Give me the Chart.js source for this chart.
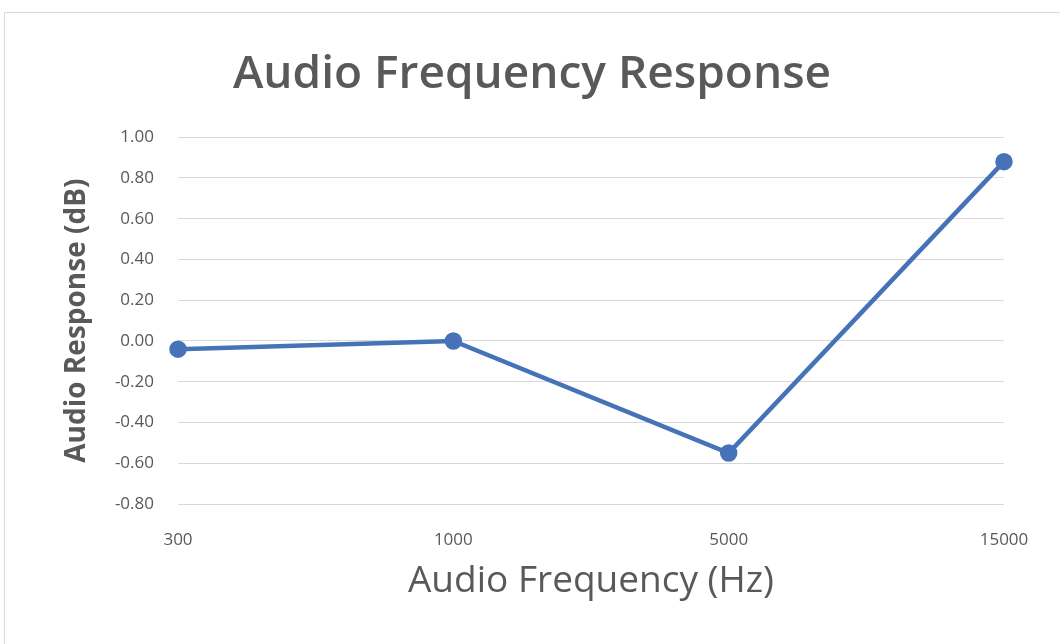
<!DOCTYPE html>
<html>
<head>
<meta charset="utf-8">
<script src="https://cdn.jsdelivr.net/npm/chart.js@4/dist/chart.umd.min.js"></script>
<style>
  body { margin: 0; background: #fff; }
  #frame { position: absolute; left: 4px; top: 12px; width: 1060px; height: 640px; border: 1px solid #d9d9d9; box-sizing: border-box; }
  #wrap { position: absolute; left: 0; top: 0; width: 1060px; height: 644px; }
</style>
</head>
<body>
<div id="frame"></div>
<div id="wrap"><canvas id="myChart"></canvas></div>
<script>
var frequencies = ['300', '1000', '5000', '15000'];
var responses = [-0.04, 0.00, -0.55, 0.88];
var yMin = -0.80, yMax = 1.00, yStep = 0.20;

var grey = '#595959';
var ctx = document.getElementById('myChart').getContext('2d');
var myChart = new Chart(ctx, {
    type: 'line',
    data: {
        labels: frequencies,
        datasets: [{
            label: 'Audio Response',
            data: responses,
            borderColor: '#4672B8',
            backgroundColor: '#4672B8',
            borderWidth: 4.5,
            pointRadius: 6.5,
            tension: 0
        }]
    },
    options: {
        responsive: true,
        maintainAspectRatio: false,
        animation: false,
        layout: { padding: { left: 60, right: 56, top: 0, bottom: 40 } },
        plugins: {
            legend: { display: false },
            tooltip: { enabled: false },
            title: {
                display: true,
                text: 'Audio Frequency Response',
                color: grey,
                font: { family: 'Open Sans', size: 46, weight: '600' },
                padding: { top: 47, bottom: 35 }
            }
        },
        scales: {
            x: {
                offset: false,
                grid: { display: false, drawTicks: false },
                border: { display: false },
                ticks: { color: grey, font: { family: 'Open Sans', size: 17 }, padding: 26 },
                title: {
                    display: true,
                    text: 'Audio Frequency (Hz)',
                    color: grey,
                    font: { family: 'Open Sans', size: 37 },
                    padding: { top: 8, bottom: 0 }
                },
                afterFit: function (scale) { scale.height = 100; }
            },
            y: {
                min: yMin,
                max: yMax,
                grid: { color: '#d9d9d9', lineWidth: 1, drawTicks: false },
                border: { display: false },
                ticks: {
                    stepSize: yStep,
                    color: grey,
                    font: { family: 'Open Sans', size: 17 },
                    padding: 24,
                    callback: function (v) { return v.toFixed(2); }
                },
                title: {
                    display: true,
                    text: 'Audio Response (dB)',
                    color: grey,
                    font: { family: 'Open Sans', size: 28, weight: 'bold' },
                    padding: 0
                },
                afterFit: function (scale) { scale.width = 118; }
            }
        }
    }
});
</script>
</body>
</html>
